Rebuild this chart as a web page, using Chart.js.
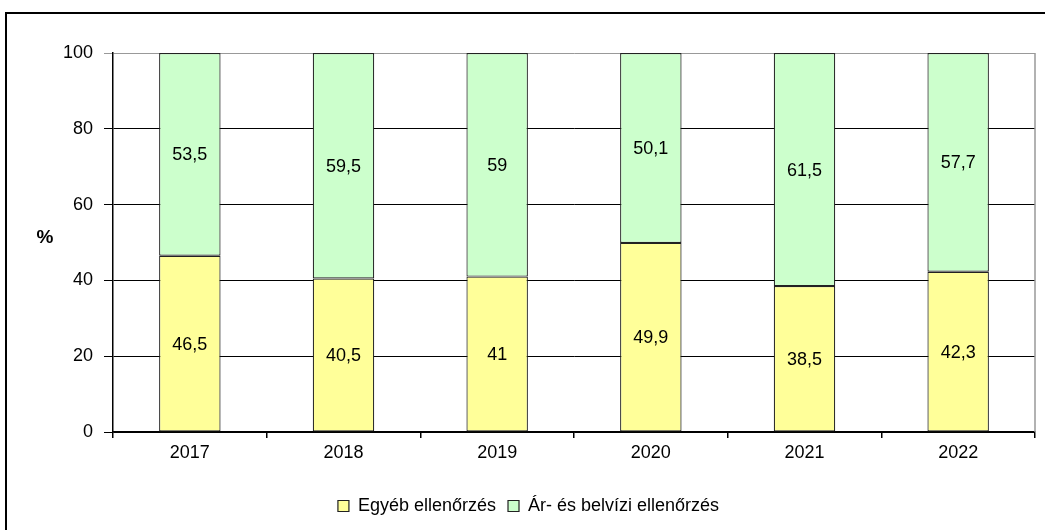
<!DOCTYPE html>
<html>
<head>
<meta charset="utf-8">
<script src="https://cdn.jsdelivr.net/npm/chart.js@4"></script>
<style>
  html, body { margin: 0; padding: 0; background: #fff; }
  #wrap { position: relative; width: 1045px; height: 530px; overflow: hidden; }
  #frame {
    position: absolute; left: 5px; top: 12px; width: 1100px; height: 600px;
    border-left: 2px solid #000; border-top: 2px solid #000;
  }
  canvas { position: absolute; left: 0; top: 0; }
</style>
</head>
<body>
<div id="wrap">
  <div id="frame"></div>
  <canvas id="chart" width="1045" height="530"></canvas>
</div>
<script>
/* ---------- data ---------- */
const years = ["2017", "2018", "2019", "2020", "2021", "2022"];
const egyeb = [46.5, 40.5, 41, 49.9, 38.5, 42.3];
const arBelvizi = [53.5, 59.5, 59, 50.1, 61.5, 57.7];
const yTicks = [0, 20, 40, 60, 80, 100];

const FONT = "'Liberation Sans', Arial, sans-serif";

// value labels in the middle of each segment
const segmentLabels = {
    id: "segmentLabels",
    afterDatasetsDraw(chart) {
        const ctx = chart.ctx;
        ctx.save();
        ctx.font = "18px " + FONT;
        ctx.fillStyle = "#000";
        ctx.textAlign = "center";
        ctx.textBaseline = "middle";
        chart.data.datasets.forEach((ds, i) => {
            chart.getDatasetMeta(i).data.forEach((bar, j) => {
                const txt = String(ds.data[j]).replace(".", ",");
                ctx.fillText(txt, bar.x, (bar.y + bar.base) / 2 + 1);
            });
        });
        ctx.restore();
    }
};

// "%" unit label and gray right edge of plot area
const extras = {
    id: "extras",
    beforeDatasetsDraw(chart) {
        const { ctx, chartArea } = chart;
        ctx.save();
        ctx.strokeStyle = "#999";
        ctx.lineWidth = 1.5;
        ctx.beginPath();
        ctx.moveTo(chartArea.right, chartArea.top);
        ctx.lineTo(chartArea.right, chartArea.bottom);
        ctx.stroke();
        ctx.restore();
    },
    afterDraw(chart) {
        const ctx = chart.ctx;
        ctx.save();
        ctx.font = "bold 19px " + FONT;
        ctx.fillStyle = "#000";
        ctx.textAlign = "center";
        ctx.textBaseline = "middle";
        ctx.fillText("%", 45, 238);
        ctx.restore();
    }
};

new Chart(document.getElementById("chart"), {
    type: "bar",
    data: {
        labels: years,
        datasets: [
            {
                label: "Egyéb ellenőrzés",
                data: egyeb,
                backgroundColor: "#FFFF99",
                borderColor: "#222",
                borderWidth: 1.2,
                borderSkipped: false
            },
            {
                label: "Ár- és belvízi ellenőrzés",
                data: arBelvizi,
                backgroundColor: "#CCFFCC",
                borderColor: "#222",
                borderWidth: 1.2,
                borderSkipped: false
            }
        ]
    },
    options: {
        responsive: false,
        animation: false,
        categoryPercentage: 1,
        barPercentage: 0.4,
        layout: {
            padding: { top: 53, left: 22, right: 10, bottom: 5 }
        },
        plugins: {
            legend: {
                position: "bottom",
                labels: {
                    font: { size: 18, family: FONT },
                    color: "#000",
                    boxWidth: 11,
                    boxHeight: 11,
                    padding: 12
                }
            },
            tooltip: { enabled: false }
        },
        scales: {
            x: {
                stacked: true,
                grid: {
                    offset: true,
                    drawOnChartArea: false,
                    tickLength: 6,
                    color: "#000",
                    lineWidth: 1.5
                },
                border: { color: "#000", width: 1.5 },
                ticks: {
                    font: { size: 18, family: FONT },
                    color: "#000",
                    padding: 4
                },
                afterFit(scale) {
                    scale.height = 53;
                }
            },
            y: {
                stacked: true,
                min: 0,
                max: 100,
                afterBuildTicks(scale) {
                    scale.ticks = yTicks.map(v => ({ value: v }));
                },
                grid: {
                    color: ctx => (ctx.tick && ctx.tick.value === 100 ? "#999" : "#000"),
                    lineWidth: 1,
                    tickLength: 9
                },
                border: { color: "#000", width: 1.5 },
                ticks: {
                    font: { size: 18, family: FONT },
                    color: "#000",
                    padding: 11
                },
                afterFit(scale) {
                    scale.width = 91;
                }
            }
        }
    },
    plugins: [segmentLabels, extras]
});
</script>
</body>
</html>
